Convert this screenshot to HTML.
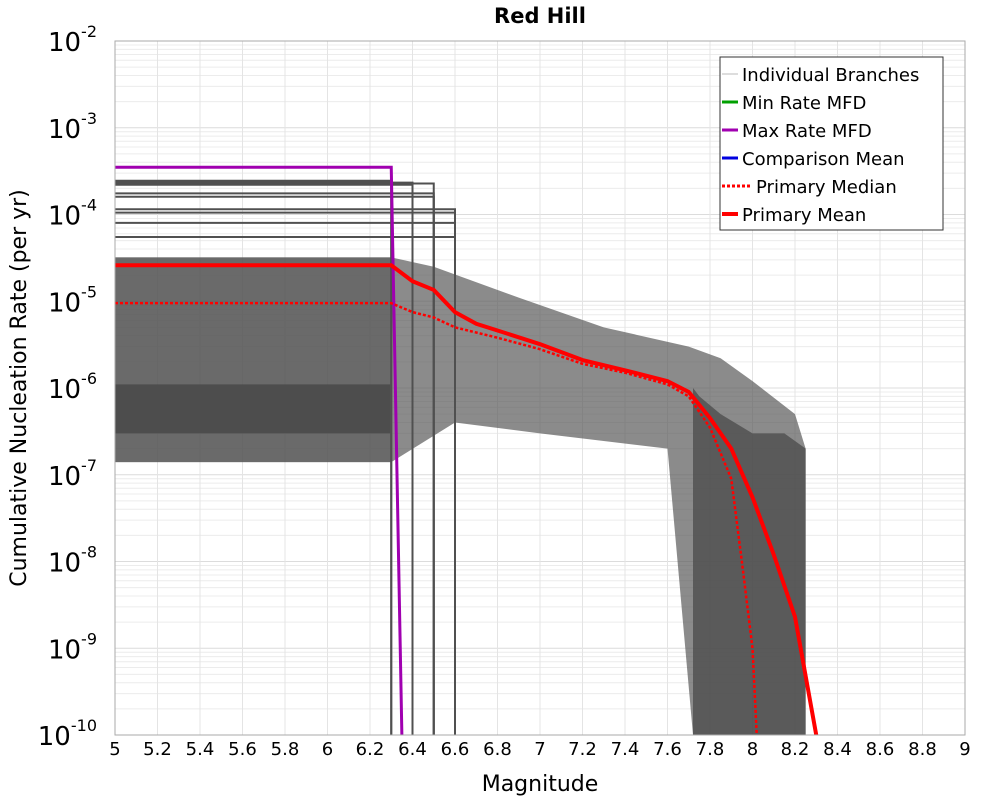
<!DOCTYPE html>
<html><head><meta charset="utf-8"><style>
body{margin:0;background:#fff;}
svg text{font-family:"DejaVu Sans","Liberation Sans",sans-serif;}
</style></head><body>
<svg id="chart" width="1000" height="800" xmlns="http://www.w3.org/2000/svg">
<text x="540" y="23" text-anchor="middle" font-size="21" font-weight="bold">Red Hill</text>
<g id="grid"></g>
<g id="bands"></g>
<g id="branches"></g>
<g id="series"></g>
<rect x="115" y="41" width="850" height="694" fill="none" stroke="#aaa" stroke-width="1"/>
<g id="yticks"></g>
<g id="xticks"></g>
<text x="540" y="791" text-anchor="middle" font-size="22">Magnitude</text>
<text transform="translate(26,388) rotate(-90)" text-anchor="middle" font-size="22">Cumulative Nucleation Rate (per yr)</text>
<g>
<rect x="720" y="57" width="223" height="173" fill="#fff" stroke="#333" stroke-width="1"/>
<line x1="722" y1="74" x2="738" y2="74" stroke="#bbb" stroke-width="1"/>
<text x="742" y="81" font-size="18">Individual Branches</text>
<line x1="722" y1="102" x2="738" y2="102" stroke="#00a000" stroke-width="3"/>
<text x="742" y="109" font-size="18">Min Rate MFD</text>
<line x1="722" y1="130" x2="738" y2="130" stroke="#a000b0" stroke-width="3"/>
<text x="742" y="137" font-size="18">Max Rate MFD</text>
<line x1="722" y1="158" x2="738" y2="158" stroke="#0000e0" stroke-width="3"/>
<text x="742" y="165" font-size="18">Comparison Mean</text>
<line x1="722" y1="186" x2="750" y2="186" stroke="#f00" stroke-width="3" stroke-dasharray="3,2"/>
<text x="756" y="193" font-size="18">Primary Median</text>
<line x1="722" y1="214" x2="738" y2="214" stroke="#f00" stroke-width="4"/>
<text x="742" y="221" font-size="18">Primary Mean</text>
</g>
</svg>
<script>
const xTicks=[5,5.2,5.4,5.6,5.8,6,6.2,6.4,6.6,6.8,7,7.2,7.4,7.6,7.8,8,8.2,8.4,8.6,8.8,9];
const yDecades=[-2,-3,-4,-5,-6,-7,-8,-9,-10];
const meanMag=[5,6.3,6.4,6.5,6.6,6.7,6.8,7.0,7.2,7.4,7.6,7.7,7.8,7.9,8.0,8.1,8.2,8.3];
const meanRate=[2.6e-5,2.6e-5,1.7e-5,1.35e-5,7.5e-6,5.5e-6,4.6e-6,3.2e-6,2.1e-6,1.6e-6,1.2e-6,9e-7,4.5e-7,2e-7,5.5e-8,1.2e-8,2.3e-9,1e-10];
const medMag=[5,6.3,6.4,6.5,6.6,6.8,7.0,7.2,7.4,7.6,7.7,7.8,7.9,7.95,8.0,8.02];
const medRate=[9.5e-6,9.5e-6,7.5e-6,6.5e-6,5e-6,3.8e-6,2.8e-6,1.9e-6,1.5e-6,1.1e-6,8e-7,3.5e-7,9e-8,1e-8,1e-9,1e-10];
const maxMag=[5,6.3,6.35];
const maxRate=[3.5e-4,3.5e-4,1e-10];
const bandUpperMag=[5,6.3,6.5,6.9,7.3,7.7,7.85,8.0,8.2,8.25,8.25];
const bandUpperRate=[3.2e-5,3.2e-5,2.5e-5,1.1e-5,5e-6,3e-6,2.2e-6,1.2e-6,5e-7,2e-7,1e-10];
const bandLowerMag=[5,6.3,6.6,7.0,7.6,7.72];
const bandLowerRate=[1.4e-7,1.4e-7,4e-7,3e-7,2e-7,1e-10];
const coreUpperRate=[1.1e-6,1.1e-6];
const coreLowerRate=[3e-7,3e-7];
const coreMag=[5,6.3];
const tailMag=[7.72,7.75,7.85,8.0,8.15,8.25,8.25,7.72];
const tailRate=[1e-6,8e-7,5e-7,3e-7,3e-7,2e-7,1e-10,1e-10];
const stepRates=[2.45e-4,2.38e-4,2.33e-4,2.28e-4,2.2e-4,1.75e-4,1.6e-4,1.15e-4,1.05e-4,8e-5,5.5e-5];
const stepEnds=[6.3,6.3,6.4,6.5,6.4,6.5,6.5,6.6,6.6,6.6,6.6];

const NS="http://www.w3.org/2000/svg";
const X=m=>115+(m-5)*212.5;
const Y=v=>41+(-2-Math.log10(v))*86.75;
function mk(parent,tag,attrs){const e=document.createElementNS(NS,tag);for(const k in attrs)e.setAttribute(k,attrs[k]);document.getElementById(parent).appendChild(e);return e;}
for(const d of yDecades){for(let k=1;k<10;k++){const v=k*Math.pow(10,d);if(v>1e-2||v<1e-10)continue;
const l=mk('grid','line',{x1:115,x2:965,y1:Y(v),y2:Y(v),stroke:k==1?'#dcdcdc':'#ececec','stroke-width':1});

}}
for(const t of xTicks){const l=mk('grid','line',{x1:X(t),x2:X(t),y1:41,y2:735,stroke:'#e4e4e4','stroke-width':1});


const tx=mk('xticks','text',{x:X(t),y:755,'text-anchor':'middle','font-size':18});tx.textContent=String(t);

}
for(const d of yDecades){const tx=mk('yticks','text',{x:97,y:Y(Math.pow(10,d))+10,'text-anchor':'end','font-size':26});


tx.textContent='10';const s=document.createElementNS(NS,'tspan');s.setAttribute('font-size','16');s.setAttribute('dy','-14');s.textContent=String(d);tx.appendChild(s);}
function pts(ms,rs){return ms.map((m,i)=>X(m)+','+Y(rs[i])).join(' ');}
const upPts=pts(bandUpperMag,bandUpperRate);
const loPts=bandLowerMag.map((m,i)=>[m,bandLowerRate[i]]).reverse().map(p=>X(p[0])+','+Y(p[1])).join(' ');
const b=mk('bands','polygon',{points:upPts+' '+loPts,fill:'#5a5a5a','fill-opacity':0.7});


const t2=mk('bands','polygon',{points:pts(tailMag,tailRate),fill:'#4e4e4e','fill-opacity':0.8});


const f=mk('bands','polygon',{points:pts(coreMag,bandUpperRate.slice(0,2))+' '+pts(coreMag.slice().reverse(),bandLowerRate.slice(0,2)),fill:'#555','fill-opacity':0.6});


const c=mk('bands','polygon',{points:pts(coreMag,coreUpperRate)+' '+pts(coreMag.slice().reverse(),coreLowerRate),fill:'#4a4a4a','fill-opacity':0.9});


stepRates.forEach((r,i)=>{const p=mk('branches','polyline',{points:pts([5,stepEnds[i],stepEnds[i]],[r,r,1e-10]),fill:'none',stroke:'#505050','stroke-width':2});

});
const mx=mk('series','polyline',{points:pts(maxMag,maxRate),fill:'none',stroke:'#a000b0','stroke-width':3});


const md=mk('series','polyline',{points:pts(medMag,medRate),fill:'none',stroke:'#f00','stroke-width':2.5,'stroke-dasharray':'3,2'});


const mn=mk('series','polyline',{points:pts(meanMag,meanRate),fill:'none',stroke:'#f00','stroke-width':4});


</script>
</body></html>
